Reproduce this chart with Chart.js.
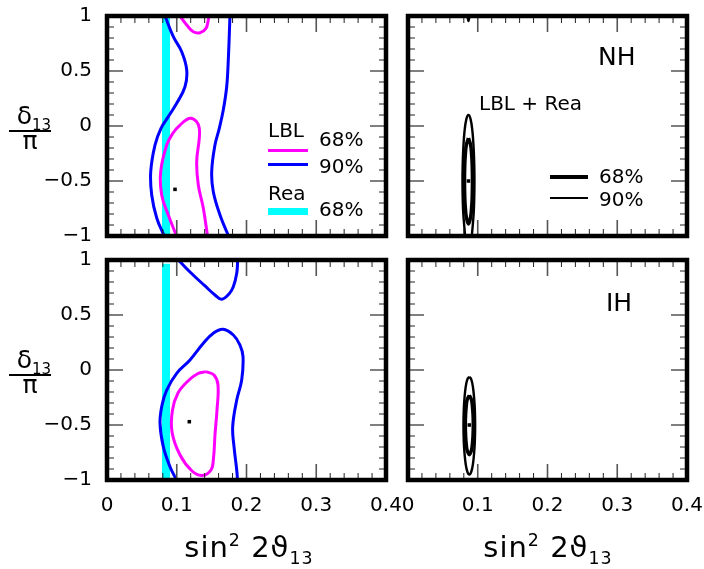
<!DOCTYPE html>
<html>
<head>
<meta charset="utf-8">
<script src="https://cdn.jsdelivr.net/npm/chart.js@4.4.1/dist/chart.umd.min.js"></script>
<style>
  body { margin: 0; background: #fff; font-family: "DejaVu Sans", sans-serif; }
  #wrap { position: relative; width: 704px; height: 569px; overflow: hidden; background: #fff; }
  #wrap canvas { position: absolute; left: 0; top: 0; }
  .t { position: absolute; font-size: 20px; line-height: 20px; white-space: nowrap; color: #000; }
  .big { font-size: 25px; line-height: 25px; }
  .sw { position: absolute; }
  .axt { position: absolute; width: 240px; text-align: center; font-size: 29px; line-height: 29px; letter-spacing: 1px; white-space: nowrap; }
  .axt sup, .axt sub, .yl sub { font-size: 60%; line-height: 0; }
  .yl { position: absolute; left: 8px; width: 44px; text-align: center; font-size: 25px; line-height: 25px; }
  .yl .num { border-bottom: 2.5px solid #000; }
</style>
</head>
<body>
<div id="wrap">
  <canvas id="nhLbl" width="704" height="569"></canvas>
  <canvas id="nhComb" width="704" height="569"></canvas>
  <canvas id="ihLbl" width="704" height="569"></canvas>
  <canvas id="ihComb" width="704" height="569"></canvas>

  <!-- top-left legend -->
  <div class="t" style="left:268px;top:120px">LBL</div>
  <div class="sw" style="left:268px;top:148.5px;width:40px;height:3px;background:#ff00ff"></div>
  <div class="t" style="left:319px;top:129px">68%</div>
  <div class="sw" style="left:268px;top:162.5px;width:40px;height:3px;background:#0000ff"></div>
  <div class="t" style="left:319px;top:156px">90%</div>
  <div class="t" style="left:268px;top:183px">Rea</div>
  <div class="sw" style="left:268px;top:208px;width:40px;height:7px;background:#00ffff"></div>
  <div class="t" style="left:319px;top:199px">68%</div>

  <!-- top-right labels -->
  <div class="t big" style="left:598px;top:44px">NH</div>
  <div class="t" style="left:479px;top:93px">LBL + Rea</div>
  <div class="sw" style="left:550px;top:175px;width:38px;height:4px;background:#000"></div>
  <div class="t" style="left:599px;top:166px">68%</div>
  <div class="sw" style="left:550px;top:197px;width:38px;height:1.5px;background:#000"></div>
  <div class="t" style="left:599px;top:189px">90%</div>

  <div class="t big" style="left:606px;top:290px">IH</div>

  <!-- axis titles -->
  <div class="axt" style="left:129px;top:533px">sin<sup>2</sup> 2ϑ<sub>13</sub></div>
  <div class="axt" style="left:428px;top:533px">sin<sup>2</sup> 2ϑ<sub>13</sub></div>
  <div class="yl" style="top:103px"><span class="num">&nbsp;δ<sub>13</sub></span><br>π</div>
  <div class="yl" style="top:347px"><span class="num">&nbsp;δ<sub>13</sub></span><br>π</div>
</div>

<script>
// axis ranges (sin^2 2theta13 vs delta13/pi)
const xRange = [0, 0.4];
const yRange = [-1, 1];

// --- NH, LBL only (top left) ---
const nhBlueLeft = [[0.0832,1.0],[0.0951,0.812],[0.1071,0.675],[0.1143,0.509],[0.1118,0.357],[0.0999,0.206],
  [0.0879,0.085],[0.0774,-0.021],[0.0688,-0.173],[0.0627,-0.415],[0.0641,-0.627],[0.0713,-0.836],[0.082,-1.0]];
const nhBlueRight = [[0.1763,1.0],[0.1739,0.6],[0.1716,0.357],[0.1667,0.145],[0.1610,-0.021],[0.1548,-0.173],
  [0.1501,-0.415],[0.1524,-0.597],[0.1620,-0.809],[0.1742,-1.0]];
const nhMagTop = [[0.1047,1.0],[0.1143,0.918],[0.1237,0.857],[0.1333,0.848],[0.1419,0.888],[0.1452,0.964],[0.1458,1.0]];
const nhMag68 = [[0.0996,-1.0],[0.0879,-0.809],[0.0784,-0.627],[0.0770,-0.415],[0.0856,-0.173],[0.0946,-0.064],
  [0.1047,0.009],[0.1190,0.070],[0.1286,0.039],[0.1323,-0.021],[0.1323,-0.112],[0.1286,-0.325],[0.1309,-0.536],
  [0.1381,-0.748],[0.1441,-1.0]];
const nhBest = [[0.0975,-0.576]];
const nhRea = [[0.0846,-1],[0.0846,1]];

// --- IH, LBL only (bottom left) ---
const ihBlueTop = [[0.1024,1.0],[0.119,0.891],[0.1405,0.764],[0.1548,0.682],[0.1645,0.643],[0.1749,0.691],
  [0.1811,0.757],[0.1860,0.879],[0.1874,1.0]];
const ihBlue90 = [[0.0996,-1.0],[0.0903,-0.879],[0.0807,-0.697],[0.076,-0.482],[0.0789,-0.318],[0.0856,-0.182],
  [0.0999,-0.03],[0.119,0.091],[0.1381,0.243],[0.1524,0.334],[0.1663,0.37],[0.1811,0.318],[0.1907,0.227],
  [0.195,0.121],[0.1931,-0.091],[0.186,-0.273],[0.1802,-0.515],[0.1821,-0.697],[0.186,-0.909],[0.1871,-1.0]];
const ihMag68 = [[0.1419,-0.015],[0.1534,-0.045],[0.1591,-0.136],[0.1577,-0.364],[0.1548,-0.591],[0.1527,-0.8],
  [0.1491,-0.909],[0.1362,-0.959],[0.1219,-0.918],[0.1047,-0.773],[0.0932,-0.564],[0.0939,-0.364],[0.1018,-0.209],
  [0.1161,-0.1],[0.1305,-0.032],[0.1419,-0.015]];
const ihBest = [[0.118,-0.47]];
const ihRea = [[0.0846,-1],[0.0846,0.965]];

// --- LBL + Rea combined (right column) ---
const nhComb90 = [[0.0819,-1.0],[0.0793,-0.8],[0.0784,-0.65],[0.0781,-0.5],[0.0784,-0.35],[0.0793,-0.2],
  [0.0810,-0.05],[0.0836,0.06],[0.0867,0.1],[0.0898,0.06],[0.0924,-0.05],[0.0941,-0.2],[0.0950,-0.35],
  [0.0953,-0.5],[0.0950,-0.65],[0.0941,-0.8],[0.0915,-1.0]];
const nhComb90Top = [[0.0852,1.0],[0.0867,0.955],[0.0882,1.0]];
const nhComb68 = [[0.0867,-0.11],[0.0897,-0.17],[0.0911,-0.25],[0.0920,-0.35],[0.0924,-0.5],[0.0920,-0.65],
  [0.0911,-0.75],[0.0897,-0.83],[0.0867,-0.89],[0.0837,-0.83],[0.0823,-0.75],[0.0814,-0.65],[0.0810,-0.5],
  [0.0814,-0.35],[0.0823,-0.25],[0.0837,-0.17],[0.0867,-0.11]];
const nhCombBest = [[0.0867,-0.5]];

const ihComb90 = [[0.0879,-0.06],[0.0907,-0.085],[0.0931,-0.155],[0.0948,-0.255],[0.0958,-0.355],[0.0963,-0.505],
  [0.0958,-0.655],[0.0948,-0.755],[0.0931,-0.855],[0.0907,-0.925],[0.0879,-0.95],[0.0851,-0.925],[0.0827,-0.855],
  [0.0810,-0.755],[0.0800,-0.655],[0.0795,-0.505],[0.0800,-0.355],[0.0810,-0.255],[0.0827,-0.155],[0.0851,-0.085],
  [0.0879,-0.06]];
const ihComb68 = [[0.0879,-0.23],[0.0910,-0.27],[0.0922,-0.32],[0.0932,-0.40],[0.0936,-0.50],[0.0932,-0.60],
  [0.0922,-0.68],[0.0910,-0.73],[0.0879,-0.77],[0.0848,-0.73],[0.0836,-0.68],[0.0826,-0.60],[0.0822,-0.50],
  [0.0826,-0.40],[0.0836,-0.32],[0.0848,-0.27],[0.0879,-0.23]];
const ihCombBest = [[0.0879,-0.5]];

const MAGENTA = '#ff00ff', BLUE = '#0000ff', CYAN = '#00ffff', BLACK = '#000000';
const FONT = '"DejaVu Sans", sans-serif';
const W = 704, H = 569;

const toXY = pts => pts.map(([x, y]) => ({ x, y }));

const curve = (pts, color, width) => ({
  data: toXY(pts), showLine: true, borderColor: color, borderWidth: width,
  pointRadius: 0, tension: 0.4, fill: false
});
const straight = (pts, color, width) => ({
  data: toXY(pts), showLine: true, borderColor: color, borderWidth: width,
  pointRadius: 0, tension: 0, fill: false, borderCapStyle: 'butt'
});
const dot = pts => ({
  data: toXY(pts), showLine: false, pointStyle: 'rect', pointRadius: 2.5,
  backgroundColor: BLACK, borderWidth: 0
});

// frame + inward ticks on all four sides
const framePlugin = {
  id: 'frame',
  afterDraw(chart) {
    const { ctx, chartArea: a, scales: { x, y } } = chart;
    ctx.save();
    for (let i = 1; i < 20; i++) {
      const px = x.getPixelForValue(i * 0.02);
      const major = i % 5 === 0;
      const len = major ? 16 : 7;
      ctx.strokeStyle = major ? '#555' : '#222';
      ctx.lineWidth = major ? 1.6 : 1;
      ctx.beginPath();
      ctx.moveTo(px, a.top); ctx.lineTo(px, a.top + len);
      ctx.moveTo(px, a.bottom); ctx.lineTo(px, a.bottom - len);
      ctx.stroke();
    }
    for (let i = 1; i < 20; i++) {
      const py = y.getPixelForValue(-1 + i * 0.1);
      const major = i % 5 === 0;
      const len = major ? 16 : 7;
      ctx.strokeStyle = major ? '#555' : '#222';
      ctx.lineWidth = major ? 1.6 : 1;
      ctx.beginPath();
      ctx.moveTo(a.left, py); ctx.lineTo(a.left + len, py);
      ctx.moveTo(a.right, py); ctx.lineTo(a.right - len, py);
      ctx.stroke();
    }
    ctx.strokeStyle = BLACK;
    ctx.lineWidth = 4.5;
    ctx.strokeRect(a.left, a.top, a.right - a.left, a.bottom - a.top);
    ctx.restore();
  }
};

const fmt = v => {
  const r = Math.round(v * 10) / 10;
  return String(r).replace('-', '\u2212');
};

// box = [left, top, right, bottom] of the plot frame in page pixels
function makePanel(id, box, datasets, showX, showY) {
  const [L, T, R, B] = box;
  return new Chart(document.getElementById(id), {
    type: 'scatter',
    data: { datasets },
    options: {
      responsive: false,
      animation: false,
      events: [],
      layout: { padding: { left: showY ? 0 : L, top: T, right: W - R, bottom: showX ? 0 : H - B } },
      plugins: { legend: { display: false }, tooltip: { enabled: false } },
      scales: {
        x: {
          type: 'linear', min: xRange[0], max: xRange[1], display: showX,
          grid: { display: false, drawTicks: false, tickLength: 0 },
          border: { display: false },
          afterFit: s => { if (showX) { s.height = H - B; s.paddingLeft = 0; s.paddingRight = 0; } },
          ticks: { stepSize: 0.1, autoSkip: false, maxRotation: 0, padding: 14,
                   color: BLACK, font: { family: FONT, size: 20 }, callback: fmt }
        },
        y: {
          type: 'linear', min: yRange[0], max: yRange[1], display: showY,
          grid: { display: false, drawTicks: false, tickLength: 0 },
          border: { display: false },
          afterFit: s => { if (showY) { s.width = L; s.paddingTop = 0; s.paddingBottom = 0; } },
          ticks: { stepSize: 0.5, autoSkip: false, padding: 15,
                   color: BLACK, font: { family: FONT, size: 20 }, callback: fmt }
        }
      }
    },
    plugins: [framePlugin]
  });
}

makePanel('nhLbl', [107, 16, 386, 236], [
  dot(nhBest),
  curve(nhMag68, MAGENTA, 3),
  curve(nhMagTop, MAGENTA, 3),
  curve(nhBlueLeft, BLUE, 3),
  curve(nhBlueRight, BLUE, 3),
  straight(nhRea, CYAN, 8)
], false, true);

makePanel('nhComb', [408, 16, 687, 236], [
  dot(nhCombBest),
  curve(nhComb68, BLACK, 3.5),
  curve(nhComb90, BLACK, 2.4),
  curve(nhComb90Top, BLACK, 2.4)
], false, false);

makePanel('ihLbl', [107, 260, 386, 480], [
  dot(ihBest),
  curve(ihMag68, MAGENTA, 3),
  curve(ihBlue90, BLUE, 3),
  curve(ihBlueTop, BLUE, 3),
  straight(ihRea, CYAN, 8)
], true, true);

makePanel('ihComb', [408, 260, 687, 480], [
  dot(ihCombBest),
  curve(ihComb68, BLACK, 3.5),
  curve(ihComb90, BLACK, 2.4)
], true, false);
</script>
</body>
</html>
